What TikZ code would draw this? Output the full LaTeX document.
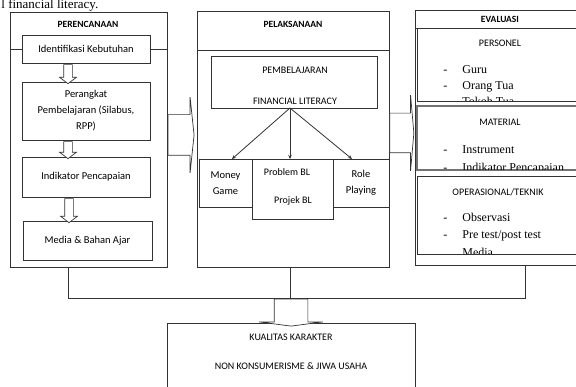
\documentclass[tikz,border=0pt]{standalone}
\usepackage{fontspec}
\setmainfont{Liberation Serif}
\newfontfamily\boxfont{Carlito}
\usetikzlibrary{shapes, shapes.arrows, arrows.meta, positioning, calc}

\begin{document}
\begin{tikzpicture}[x=1pt, y=-1pt, line width=0.8pt]
  \tikzstyle{frame} = [draw=black!80, rectangle, inner sep=0pt, outer sep=0pt]
  \tikzstyle{stepbox} = [draw=black!80, rectangle, fill=white, inner sep=0pt, outer sep=0pt, align=center, font=\boxfont\fontsize{10.5}{16}\selectfont]
  \tikzstyle{title} = [font=\boxfont\bfseries\fontsize{9.5}{11}\selectfont, inner sep=0pt]
  \tikzstyle{caption} = [font=\boxfont\fontsize{10}{12}\selectfont, inner sep=0pt]
  \tikzstyle{item} = [font=\fontsize{12}{14}\selectfont, anchor=base west, inner sep=0pt]
  \tikzstyle{hollow} = [draw=black!80, fill=white, single arrow, minimum width=0pt, line width=0.7pt]
  \tikzstyle{link} = [draw=black!80, -{Stealth[length=4pt,width=3.5pt]}]

  \clip (0,0) rectangle (576,387);

  % caption of the page above
  \node[anchor=base west, inner sep=0pt, font=\fontsize{13}{15}\selectfont] (head) at (1,9) {l financial literacy.};

  % perencanaan
  \node[frame, minimum width=157, minimum height=255] (plan) at (88.5,139.5) {};
  \draw[black!80] (10,49) -- (167,49);
  \node[title] (plantitle) at (88,24) {PERENCANAAN};
  \node[stepbox, minimum width=128, minimum height=28] (need) at (86,49) {Identifikasi Kebutuhan};
  \node[stepbox, minimum width=128, minimum height=58] (tools) at (86,111) {Perangkat\\Pembelajaran (Silabus,\\RPP)};
  \node[stepbox, minimum width=128, minimum height=40] (target) at (86,177) {Indikator Pencapaian};
  \node[stepbox, minimum width=129, minimum height=39] (media) at (87.5,240.5) {Media \& Bahan Ajar};
  \node[hollow, shape border rotate=270, inner xsep=4pt, inner ysep=0pt, single arrow head extend=4pt, single arrow tip angle=106, minimum height=19] (s1) at (68,72.5) {};
  \node[hollow, shape border rotate=270, inner xsep=4pt, inner ysep=0pt, single arrow head extend=4pt, single arrow tip angle=106, minimum height=17] (s2) at (68,148.5) {};
  \node[hollow, shape border rotate=270, inner xsep=4pt, inner ysep=0pt, single arrow head extend=4pt, single arrow tip angle=106, minimum height=24] (s3) at (69,209) {};

  % pelaksanaan
  \node[frame, minimum width=192, minimum height=256] (exec) at (293,139) {};
  \draw[black!80] (197,50) -- (389,50);
  \node[title] (exectitle) at (293,24) {PELAKSANAAN};
  \node[frame, minimum width=166, minimum height=52] (learn) at (294,82) {};
  \node[caption] (learntop) at (295,70) {PEMBELAJARAN};
  \node[caption] (learnbot) at (295,101) {FINANCIAL LITERACY};
  \node[stepbox, minimum width=53, minimum height=48] (money) at (225.5,183) {Money\\Game};
  \node[stepbox, minimum width=56, minimum height=48] (role) at (361,183) {Role\\Playing};
  \node[frame, minimum width=81, minimum height=60] (problem) at (292.5,189) {};
  \node[caption] (pbl) at (287,172) {Problem BL};
  \node[caption] (pjbl) at (293,201) {Projek BL};
  \coordinate (fork) at (290,108);
  \draw[link] (fork) -- (232,159);
  \draw[link] (fork) -- (290,159);
  \draw[link] (fork) -- (352,159);

  % evaluasi
  \node[frame, minimum width=185, minimum height=255] (eval) at (507.5,137.5) {};
  \draw[black!80] (415,28) -- (600,28);
  \node[title] (evaltitle) at (500,19) {EVALUASI};
  \node[frame, minimum width=183, minimum height=73] (person) at (508.5,64.5) {};
  \node[frame, draw=black!55, line width=1.4pt, minimum width=183, minimum height=64] (matter) at (508.5,138) {};
  \node[frame, minimum width=183, minimum height=78] (tech) at (508.5,215) {};
  \begin{scope}
    \clip (person.north west) rectangle (person.south east);
    \node[caption] (persontitle) at (500,43) {PERSONEL};
    \node[item] at (443,74) {-};
    \node[item] at (462,74) {Guru};
    \node[item] at (443,90) {-};
    \node[item] at (462,90) {Orang Tua};
    \node[item] at (462,106) {Tokoh Tua};
  \end{scope}
  \begin{scope}
    \clip (matter.north west) rectangle (matter.south east);
    \node[caption] (mattertitle) at (500,122) {MATERIAL};
    \node[item] at (443,154) {-};
    \node[item] at (462,154) {Instrument};
    \node[item] at (443,172) {-};
    \node[item] at (462,172) {Indikator Pencapaian};
  \end{scope}
  \begin{scope}
    \clip (tech.north west) rectangle (tech.south east);
    \node[caption] (techtitle) at (498,192) {OPERASIONAL/TEKNIK};
    \node[item] at (443,222) {-};
    \node[item] at (462,222) {Observasi};
    \node[item] at (443,239) {-};
    \node[item] at (462,239) {Pre test/post test};
    \node[item] at (462,257) {Media};
  \end{scope}

  % big arrows between the stages
  \node[hollow, inner xsep=0pt, inner ysep=20pt, single arrow head extend=17.5pt, single arrow tip angle=168, minimum height=26] (a1) at (180,135) {};
  \node[hollow, inner xsep=0pt, inner ysep=19.5pt, single arrow head extend=18pt, single arrow tip angle=170, minimum height=24] (a2) at (401,133) {};

  % result
  \node[frame, minimum width=248, minimum height=77] (result) at (291,361.5) {};
  \node[caption] (resulttop) at (291,337) {KUALITAS KARAKTER};
  \node[caption] (resultbot) at (291,366) {NON KONSUMERISME \& JIWA USAHA};

  \coordinate (j1) at (68,298);
  \coordinate (j2) at (290,298);
  \coordinate (j3) at (525,298);
  \draw[black!80] (plan.south -| j1) -- (j1) -- (j3) -- (eval.south -| j3);
  \draw[black!80] (exec.south -| j2) -- (j2);
  \node[hollow, shape border rotate=270, inner xsep=16.5pt, inner ysep=0pt, single arrow head extend=15pt, single arrow tip angle=165, minimum height=27] (a3) at (291,311.5) {};
\end{tikzpicture}
\end{document}
